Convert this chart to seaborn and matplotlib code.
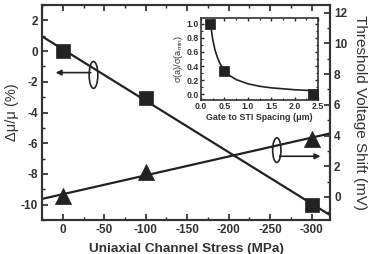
import numpy as np
import pandas as pd
import matplotlib
matplotlib.use("Agg")
import matplotlib.pyplot as plt
from matplotlib.patches import Ellipse
from matplotlib.ticker import MultipleLocator, FormatStrFormatter
import seaborn as sns

# ---- data ----
stress = [0, -100, -300]                  # MPa
mobility = [0.0, -3.05, -10.0]            # delta mu / mu (%)
vt_shift = [0.05, 1.6, 3.8]               # mV
spacing = [0.2, 0.5, 2.4]                 # um
sigma_ratio = [1.0, 0.33, 0.0]
curve_x = [0.2, 0.25, 0.3, 0.35, 0.4, 0.5, 0.6, 0.75, 1.0, 1.25, 1.5, 2.0, 2.5]
curve_y = [1.0, 0.77, 0.62, 0.52, 0.44, 0.33, 0.27, 0.21, 0.15, 0.115, 0.093, 0.066, 0.05]

sns.set_theme(style="ticks")
plt.rcParams['font.family'] = ['Liberation Sans', 'DejaVu Sans']
plt.rcParams['axes.unicode_minus'] = False
plt.rcParams['mathtext.default'] = 'regular'

fig = plt.figure(figsize=(3.69, 2.54), dpi=100)
ax = fig.add_axes([0.114, 0.134, 0.780, 0.846])
ax.set_xlim(25, -322)
ax.set_ylim(-11, 3)
ax2 = ax.twinx()
ax2.set_ylim(-1.5, 12.5)

df1 = pd.DataFrame({"stress": stress, "mob": mobility})
df2 = pd.DataFrame({"stress": stress, "vt": vt_shift})

sns.regplot(data=df1, x="stress", y="mob", ax=ax, ci=None, truncate=False,
            marker="s", color="#222222",
            scatter_kws=dict(s=95, edgecolor="#222222", linewidths=0.5, zorder=3, alpha=1),
            line_kws=dict(lw=1.6, color="#222222", zorder=2))
sns.regplot(data=df2, x="stress", y="vt", ax=ax2, ci=None, truncate=False,
            marker="^", color="#222222",
            scatter_kws=dict(s=135, edgecolor="#222222", linewidths=0.5, zorder=3, alpha=1),
            line_kws=dict(lw=1.6, color="#222222", zorder=2))
ax.set_xlim(25, -322)
ax.set_ylim(-11, 3)
ax2.set_ylim(-1.5, 12.5)

# ellipses and arrows
ax.add_patch(Ellipse((-37, -1.55), 10.5, 1.75, fill=False, lw=1.2, ec="#222222", zorder=4))
ax.annotate("", xy=(12, -1.4), xytext=(-37, -1.4),
            arrowprops=dict(arrowstyle="-|>", lw=1.2, color="#222222", mutation_scale=8))
ax.add_patch(Ellipse((-258, -6.45), 10, 1.6, fill=False, lw=1.2, ec="#222222", zorder=4))
ax.annotate("", xy=(-314, -6.85), xytext=(-258, -6.85),
            arrowprops=dict(arrowstyle="-|>", lw=1.2, color="#222222", mutation_scale=8))

# axes styling
for a in (ax, ax2):
    for sp in a.spines.values():
        sp.set_linewidth(1.5)
        sp.set_color("#333333")
ax.set_xticks([0, -50, -100, -150, -200, -250, -300])
ax.xaxis.set_minor_locator(MultipleLocator(25))
ax.set_yticks([2, 0, -2, -4, -6, -8, -10])
ax.yaxis.set_minor_locator(MultipleLocator(1))
ax2.set_yticks([0, 2, 4, 6, 8, 10, 12])
ax2.yaxis.set_minor_locator(MultipleLocator(1))
ax.tick_params(axis="both", which="major", direction="in", length=4, width=1.2,
               labelsize=8.5, top=True, pad=3)
ax.tick_params(axis="both", which="minor", direction="in", length=2, width=1, top=True)
ax.tick_params(axis="y", which="both", right=False)
ax2.tick_params(axis="y", which="major", direction="in", length=4, width=1.2, labelsize=8.5, pad=3)
ax2.tick_params(axis="y", which="minor", direction="in", length=2, width=1)
for lab in ax.get_xticklabels() + ax.get_yticklabels() + ax2.get_yticklabels():
    lab.set_fontweight("bold")
    lab.set_color("#333333")

ax.set_xlabel("Uniaxial Channel Stress (MPa)", fontsize=9.7, fontweight="bold", color="#333333", labelpad=5)
ax.set_ylabel("Δμ/μ (%)", fontsize=10.5, color="#333333", labelpad=1)
ax2.set_ylabel("Threshold Voltage Shift (mV)", fontsize=11, color="#333333",
               rotation=270, labelpad=14)

# inset
ins = fig.add_axes([0.545, 0.606, 0.317, 0.323])
sns.scatterplot(x=spacing, y=sigma_ratio, ax=ins, marker="s", s=45, color="#222222",
                edgecolor="#222222", zorder=3)
sns.lineplot(x=curve_x, y=curve_y, ax=ins, color="#222222", lw=1.2, zorder=2)
ins.set_xlim(0, 2.5)
ins.set_ylim(-0.08, 1.08)
ins.set_xticks([0.0, 0.5, 1.0, 1.5, 2.0, 2.5])
ins.set_yticks([0.0, 0.2, 0.4, 0.6, 0.8, 1.0])
ins.xaxis.set_minor_locator(MultipleLocator(0.25))
ins.yaxis.set_minor_locator(MultipleLocator(0.1))
ins.xaxis.set_major_formatter(FormatStrFormatter('%.1f'))
ins.yaxis.set_major_formatter(FormatStrFormatter('%.1f'))
ins.tick_params(which="major", direction="in", length=2.5, width=1, labelsize=6.3,
                top=True, right=True, pad=1.5)
ins.tick_params(which="minor", direction="in", length=1.5, width=0.8, top=True, right=True)
for lab in ins.get_xticklabels() + ins.get_yticklabels():
    lab.set_fontweight("bold")
    lab.set_color("#333333")
for sp in ins.spines.values():
    sp.set_linewidth(1.2)
    sp.set_color("#333333")
ins.set_xlabel("Gate to STI Spacing (μm)", fontsize=6.4, fontweight="bold", color="#333333", labelpad=1)
ins.set_ylabel("σ(a)/σ(a$_{min}$)", fontsize=6.6, color="#333333", labelpad=1)

fig.savefig("out.png", dpi=100)
